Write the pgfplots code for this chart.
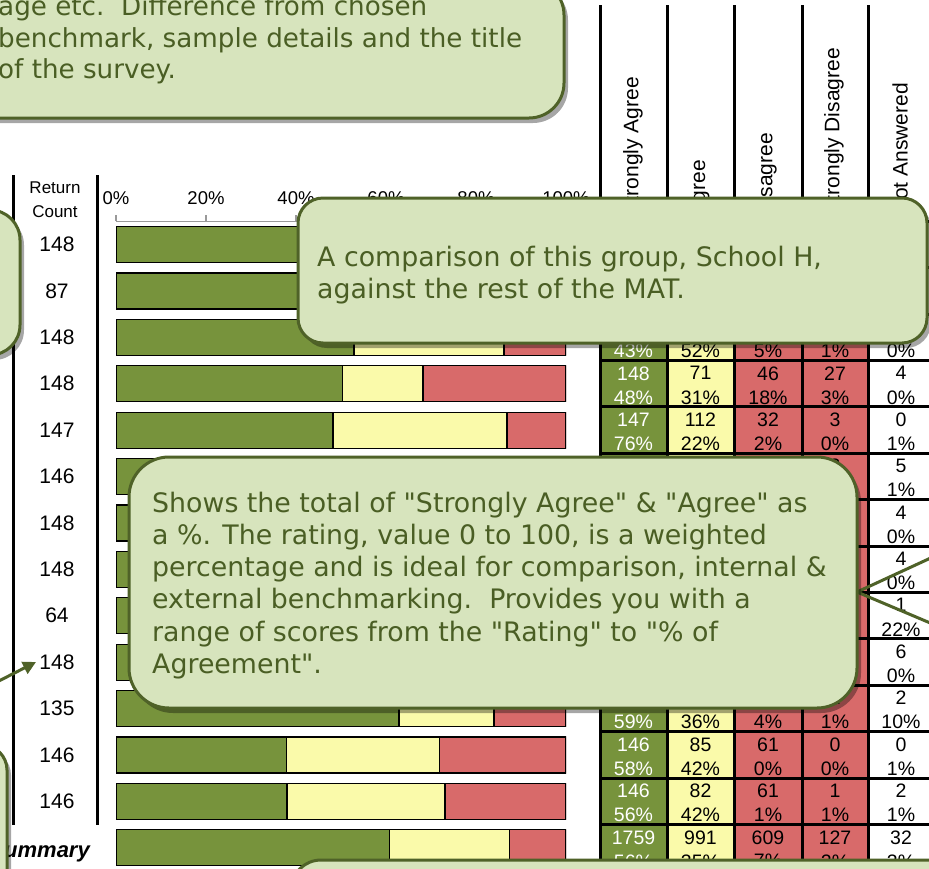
\documentclass[border=0pt]{standalone}
\usepackage{pgfplots}
\usepackage{pgfplotstable}
\pgfplotsset{compat=1.18}
\usepackage{fontspec}
\setmainfont{Liberation Sans}
\newfontfamily\callfont{DejaVu Sans}
\usetikzlibrary{shadows,arrows.meta}
\definecolor{sgreen}{HTML}{77933C}
\definecolor{syellow}{HTML}{FAFAAA}
\definecolor{sred}{HTML}{D86A6A}
\definecolor{cfill}{HTML}{D7E4BD}
\definecolor{cline}{HTML}{4F6228}
\definecolor{ctext}{HTML}{4A5E24}

\pgfplotstableread{
y  sa   a    d
14 55.0 30.0 15.0
13 52.0 33.0 15.0
12 52.9 33.3 13.8
11 50.4 17.8 31.8
10 48.2 38.7 13.1
9  49.0 35.0 16.0
8  51.0 34.0 15.0
7  50.0 36.0 14.0
6  47.0 33.0 20.0
5  50.0 34.0 16.0
4  62.9 21.1 16.0
3  37.8 34.0 28.2
2  38.0 35.1 26.9
1  60.7 26.7 12.6
}\bars

\tikzset{mycall/.style={draw=cline, line width=3pt, fill=cfill, rounded corners=#1,
  drop shadow={shadow xshift=4pt, shadow yshift=-5pt, opacity=0.35, fill=black}}}
\newcommand\cf{\callfont\fontsize{26.8}{32}\selectfont\color{ctext}}
\newcommand\cfs{\callfont\fontsize{26.2}{32}\selectfont\color{ctext}}

\begin{document}
\begin{tikzpicture}[x=1pt,y=1pt,inner sep=0pt]
\path[use as bounding box] (0,0) rectangle (929,-868);
\clip (0,0) rectangle (929,-868);
\fill[white] (0,0) rectangle (929,-868);

% ---------- table cells ----------
\foreach \r/\a/\ap/\b/\bp/\d/\dp/\e/\ep/\n/\np in {
1/80/54\%/45/30\%/18/12\%/3/2\%/2/1\%,
2/47/54\%/28/32\%/10/11\%/1/1\%/1/1\%,
3/64/43\%/77/52\%/7/5\%/1/1\%/0/0\%,
4/148/48\%/71/31\%/46/18\%/27/3\%/4/0\%,
5/147/76\%/112/22\%/32/2\%/3/0\%/0/1\%,
6/70/48\%/50/34\%/18/12\%/3/2\%/5/1\%,
7/75/51\%/52/35\%/15/10\%/2/1\%/4/0\%,
8/72/49\%/55/37\%/14/9\%/3/2\%/4/0\%,
9/30/47\%/20/31\%/10/16\%/3/5\%/1/22\%,
10/73/49\%/51/34\%/16/11\%/2/1\%/6/0\%,
11/80/59\%/49/36\%/5/4\%/1/1\%/2/10\%,
12/146/58\%/85/42\%/61/0\%/0/0\%/0/1\%,
13/146/56\%/82/42\%/61/1\%/1/1\%/2/1\%,
14/1759/56\%/991/35\%/609/7\%/127/2\%/32/3\%}{
  \pgfmathsetmacro\cy{244.5+(\r-1)*46.4}
  \pgfmathsetmacro\yt{-(\cy-23.2)}
  \pgfmathsetmacro\yb{-(\cy+23.2)}
  \pgfmathsetmacro\ya{-(\cy-10.5)}
  \pgfmathsetmacro\yp{-(\cy+13.5)}
  \fill[sgreen] (600,\yt) rectangle (667,\yb);
  \fill[syellow] (667,\yt) rectangle (734,\yb);
  \fill[sred] (734,\yt) rectangle (868,\yb);
  \begin{scope}[font=\fontsize{19.5}{21}\selectfont]
  \node[white] at (633.5,\ya) {\a};  \node[white] at (633.5,\yp) {\ap};
  \node at (700.5,\ya) {\b};  \node at (700.5,\yp) {\bp};
  \node at (768,\ya) {\d};  \node at (768,\yp) {\dp};
  \node at (835,\ya) {\e};  \node at (835,\yp) {\ep};
  \node at (901,\ya) {\n};  \node at (901,\yp) {\np};
  \end{scope}
  \draw[line width=3pt] (600,\yb) -- (935,\yb);
  \draw[line width=3pt] (600,\yt) -- (935,\yt);
}
\foreach \xx in {600,667,734,802,868}{
  \draw[line width=3pt] (\xx,-5) -- (\xx,-870);
}
% headers
\begin{scope}[font=\fontsize{21}{23}\selectfont]
\node[rotate=90,anchor=east] at (633,-77) {Strongly Agree};
\node[rotate=90,anchor=east] at (700,-160) {Agree};
\node[rotate=90,anchor=east] at (767,-133) {Disagree};
\node[rotate=90,anchor=east] at (834,-48) {Strongly Disagree};
\node[rotate=90,anchor=east] at (900,-83) {Not Answered};
\end{scope}

% ---------- left column ----------
\draw[line width=3pt] (13,-175) -- (13,-825);
\draw[line width=3pt] (97,-175) -- (97,-825);
\node[font=\fontsize{17}{19}\selectfont] at (55,-188) {Return};
\node[font=\fontsize{17}{19}\selectfont] at (55,-212) {Count};
\foreach \r/\v in {1/148,2/87,3/148,4/148,5/147,6/146,7/148,8/148,9/64,10/148,11/135,12/146,13/146}{
  \pgfmathsetmacro\cy{244.5+(\r-1)*46.4}
  \node[font=\fontsize{21}{23}\selectfont] at (57,-\cy) {\v};
}
\node[anchor=base east,font=\fontsize{22}{24}\selectfont\bfseries\itshape] at (90,-857) {Summary};

% ---------- bars ----------
\begin{axis}[
  at={(116pt,-221.3pt)}, anchor=north west,
  scale only axis, width=450pt, height=649.6pt,
  xmin=0, xmax=100, ymin=0.5, ymax=14.5,
  xbar stacked, bar width=36pt,
  axis x line*=top, axis y line=none,
  x axis line style={draw=gray!80, line width=1.2pt, -},
  xtick={0,20,40,60,80,100},
  xticklabels={0\%,20\%,40\%,60\%,80\%,100\%},
  tick align=outside, major tick length=6pt,
  xtick style={draw=gray!80, line width=1.2pt},
  xticklabel style={font=\fontsize{18.5}{20}\selectfont, yshift=10pt},
  ytick=\empty,
]
\addplot[fill=sgreen, draw=black, line width=1.2pt] table[x=sa,y=y] {\bars};
\addplot[fill=syellow, draw=black, line width=1.2pt] table[x=a,y=y] {\bars};
\addplot[fill=sred, draw=black, line width=1.2pt] table[x=d,y=y] {\bars};
\end{axis}

% ---------- callouts ----------
\draw[mycall=35pt] (-40,20) rectangle (564,-118);
\node[anchor=base west] at (-2,-15) {\cfs age etc.\ \ Difference from chosen};
\node[anchor=base west] at (-2,-47) {\cfs benchmark, sample details and the title};
\node[anchor=base west] at (-2,-78) {\cfs of the survey.};

\draw[mycall=30pt] (-60,-210) rectangle (20,-355);

\draw[mycall=25pt] (298,-198) rectangle (927,-343);
\node[anchor=base west] at (317,-266) {\cf A comparison of this group, School H,};
\node[anchor=base west] at (317,-298) {\cf against the rest of the MAT.};

\draw[cline, line width=3pt] (857,-592) -- (935,-556);
\draw[cline, line width=3pt] (857,-592) -- (935,-625);
\draw[mycall=40pt] (129,-457) rectangle (857,-708);
\node[anchor=base west] at (152,-512) {\cf Shows the total of "Strongly Agree" \& "Agree" as};
\node[anchor=base west] at (152,-544) {\cf a \%. The rating, value 0 to 100, is a weighted};
\node[anchor=base west] at (152,-576) {\cf percentage and is ideal for comparison, internal \&};
\node[anchor=base west] at (152,-608) {\cf external benchmarking.\ \ Provides you with a};
\node[anchor=base west] at (152,-641) {\cf range of scores from the "Rating" to "\% of};
\node[anchor=base west] at (152,-673) {\cf Agreement".};

\draw[mycall=25pt] (-60,-745) rectangle (7,-920);
\draw[mycall=30pt] (291,-860) rectangle (1000,-960);

\draw[cline, line width=3pt, -{Triangle[length=13pt,width=13pt]}] (-10,-685.5) -- (36,-662);
\end{tikzpicture}
\end{document}
